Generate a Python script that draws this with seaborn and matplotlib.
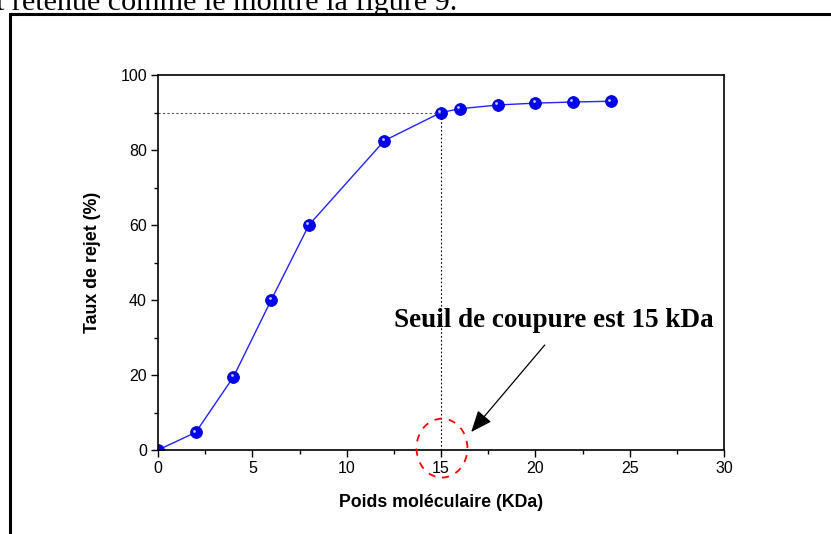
import matplotlib
matplotlib.use("Agg")
import matplotlib.pyplot as plt
import matplotlib.transforms as mtransforms
import seaborn as sns
import pandas as pd
from matplotlib.patches import Ellipse, Rectangle
from matplotlib.ticker import MultipleLocator

poids = [0, 2, 4, 6, 8, 12, 15, 16, 18, 20, 22, 24]
taux = [0, 4.7, 19.5, 40, 60, 82.5, 90, 91, 92, 92.5, 92.8, 93]
seuil_x = 15
seuil_y = 90

sns.set_theme(style="white")
plt.rcParams['font.family'] = ['Liberation Sans', 'DejaVu Sans']
plt.rcParams['text.color'] = 'black'
plt.rcParams['axes.labelcolor'] = 'black'
plt.rcParams['xtick.color'] = 'black'
plt.rcParams['ytick.color'] = 'black'

fig = plt.figure(figsize=(8.31, 5.34), dpi=100)
ax = fig.add_axes([158/831, 1 - 450/534, (724-158)/831, (450-75)/534])

df = pd.DataFrame({"x": poids, "y": taux})
sns.lineplot(data=df, x="x", y="y", ax=ax, color="#2222ff", linewidth=1.0,
             marker="o", markersize=8.5, markerfacecolor="#0000f0",
             markeredgecolor="#0000c0", markeredgewidth=0.6)
# highlights on balls
off = mtransforms.ScaledTranslation(-1.2/72, 1.2/72, fig.dpi_scale_trans)
ax.scatter(poids, taux, s=4, color="#c8ccff", zorder=5, linewidths=0,
           transform=ax.transData + off)

ax.plot([0, seuil_x], [seuil_y, seuil_y], color="#555555", linestyle=(0, (2, 2)), linewidth=0.8)
ax.plot([seuil_x, seuil_x], [0, seuil_y], color="black", linestyle=(0, (1.5, 2)), linewidth=0.8)

ax.set_xlim(0, 30)
ax.set_ylim(0, 100)
ax.xaxis.set_major_locator(MultipleLocator(5))
ax.xaxis.set_minor_locator(MultipleLocator(2.5))
ax.yaxis.set_major_locator(MultipleLocator(20))
ax.yaxis.set_minor_locator(MultipleLocator(10))
ax.tick_params(which="major", direction="out", length=5, width=1, labelsize=11.5, pad=3,
               bottom=True, left=True, top=False, right=False, colors="black")
ax.tick_params(which="minor", direction="out", length=3, width=1,
               bottom=True, left=True, top=False, right=False, colors="black")
for s in ax.spines.values():
    s.set_visible(True)
    s.set_color("black")
    s.set_linewidth(1.2)

ax.set_xlabel("Poids moléculaire (KDa)", fontsize=12.8, fontweight="bold", labelpad=13, color="black")
ax.set_ylabel("Taux de rejet (%)", fontsize=12.8, fontweight="bold", labelpad=14, color="black")

ell = Ellipse((15.05, 0.5), 2.7, 15.7, fill=False, edgecolor="red",
              linestyle=(0, (4, 4)), linewidth=1.3, clip_on=False, zorder=6)
ax.add_patch(ell)

ax.annotate("", xy=(16.6, 4.8), xytext=(20.5, 28),
            arrowprops=dict(arrowstyle="-|>,head_length=1.1,head_width=0.45",
                            color="black", lw=0.9, shrinkA=0, shrinkB=0))
ax.text(21.0, 34.5, "Seuil de coupure est 15 kDa", fontsize=19.5, fontweight="bold",
        family=["Liberation Serif", "DejaVu Serif"], ha="center", va="center", color="black")

fig.text(-0.005, 1 - 10/534, "t retenue comme le montre la figure 9.", fontsize=21.7,
         family=["Liberation Serif", "DejaVu Serif"], ha="left", va="baseline", color="black")

frame = Rectangle((9.5/831, -0.1), 1.2, (534-14.5)/534 + 0.1, transform=fig.transFigure,
                  fill=False, edgecolor="black", linewidth=2.2, clip_on=False)
fig.patches.append(frame)

fig.savefig("out.png", dpi=100)
